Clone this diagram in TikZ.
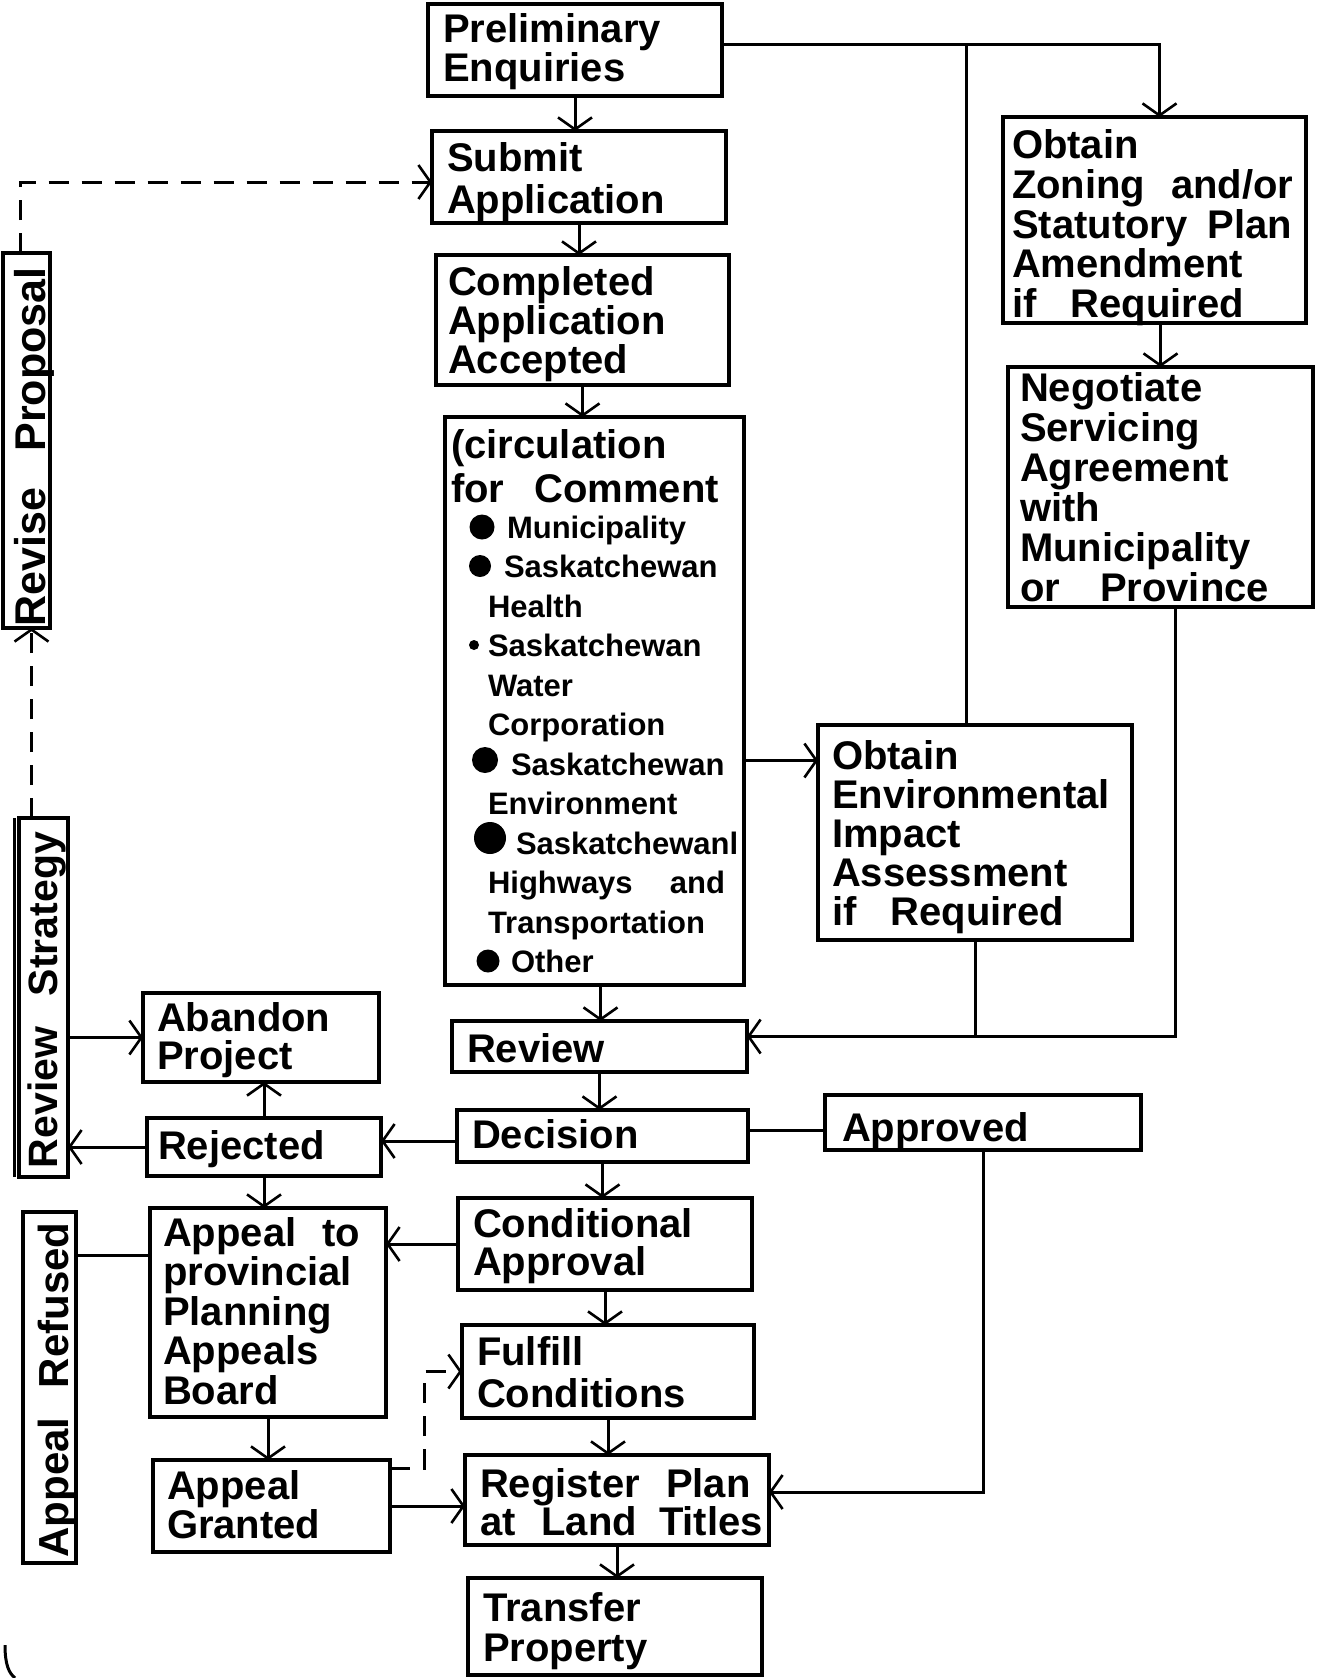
\documentclass[tikz,border=0pt]{standalone}
\usepackage{fontspec}
\setmainfont{Liberation Sans}
\usetikzlibrary{arrows.meta}
\newcommand{\wsp}{\hspace{0.65em}}

\begin{document}
\begin{tikzpicture}[x=1pt,y=-1pt,
  box/.style={draw, line width=3.6pt, inner sep=0pt, outer sep=0pt, anchor=north west},
  txt/.style={anchor=north west, inner sep=0pt, outer sep=0pt, align=left,
    font={\bfseries\fontsize{40}{#1}\selectfont\lineskiplimit=-100pt}},
  txt/.default=39,
  itemtxt/.style={anchor=north west, inner sep=0pt, outer sep=0pt, align=left,
    font={\bfseries\fontsize{31}{39.5}\selectfont\lineskiplimit=-100pt}},
  sidetxt/.style={anchor=base, rotate=90, inner sep=0pt, outer sep=0pt,
    font={\bfseries\fontsize{#1}{#1}\selectfont}},
  con/.style={line width=3pt},
  arr/.style={con, -{Straight Barb[length=12pt,width=34pt,line width=2.6pt]}},
  dcon/.style={con, dash pattern=on 20pt off 13pt},
  darr/.style={dcon, -{Straight Barb[length=12pt,width=34pt,line width=2.6pt]}},
  bullet/.style={fill=black}
]
\fill[white] (0,0) rectangle (1323,1678);
\useasboundingbox (0,0) rectangle (1323,1678);

% ---------- main column ----------
\node[box, minimum width=294pt, minimum height=92pt]  (prelim)    at (428,4) {};
\node[box, minimum width=294pt, minimum height=92pt]  (submit)    at (432,131) {};
\node[box, minimum width=293pt, minimum height=130pt] (completed) at (436,255) {};
\node[box, minimum width=299pt, minimum height=568pt] (circ)      at (445,417) {};
\node[box, minimum width=295pt, minimum height=51pt]  (review)    at (452,1021) {};
\node[box, minimum width=291pt, minimum height=52pt]  (decision)  at (457,1110) {};
\node[box, minimum width=294pt, minimum height=92pt]  (cond)      at (458,1198) {};
\node[box, minimum width=292pt, minimum height=93pt]  (fulfill)   at (462,1325) {};
\node[box, minimum width=304pt, minimum height=90pt]  (register)  at (465,1455) {};
\node[box, minimum width=294pt, minimum height=97pt]  (transfer)  at (468,1578) {};

% ---------- right column ----------
\node[box, minimum width=303pt, minimum height=206pt] (zoning)    at (1003,117) {};
\node[box, minimum width=305pt, minimum height=240pt] (negotiate) at (1008,367) {};
\node[box, minimum width=314pt, minimum height=215pt] (eia)       at (818,725) {};
\node[box, minimum width=316pt, minimum height=55pt]  (approved)  at (825,1095) {};

% ---------- left column ----------
\node[box, minimum width=236pt, minimum height=89pt]  (abandon)    at (143,993) {};
\node[box, minimum width=234pt, minimum height=58pt]  (rejected)   at (147,1118) {};
\node[box, minimum width=236pt, minimum height=209pt] (appealprov) at (150,1208) {};
\node[box, minimum width=237pt, minimum height=92pt]  (granted)    at (153,1460) {};

% ---------- side bars ----------
\node[box, minimum width=47pt, minimum height=375pt] (revise)    at (3,253) {};
\node[box, minimum width=49pt, minimum height=359pt] (revstrat)  at (19,818) {};
\node[box, minimum width=53pt, minimum height=351pt] (appealref) at (23,1212) {};
\draw[line width=4.5pt] (revise.north west) -- (revise.south west);
\draw[line width=3pt] ([xshift=-5pt]revstrat.north west) -- ([xshift=-5pt]revstrat.south west);

% ---------- texts ----------
\node[txt=39]   (prelim-t)    at (443,14)   {Preliminary\\Enquiries};
\node[txt=41.5] (submit-t)    at (447,143)  {Submit\\Application};
\node[txt=39]   (completed-t) at (448,267)  {Completed\\Application\\Accepted};
\node[txt=44]   (circ-t)      at (451,430)  {(circulation\\for\hspace{0.75em}Comment};
\node[itemtxt]  (circ-items)  at (488,516)  {\hspace*{19pt}Municipality\\
  \hspace*{16pt}Saskatchewan\\
  Health\\
  Saskatchewan\\
  Water\\
  Corporation\\
  \hspace*{23pt}Saskatchewan\\
  Environment\\
  \hspace*{28pt}Saskatchewanl\\
  Highways\hspace{1.2em}and\\
  Transportation\\
  \hspace*{23pt}Other};
\fill[bullet] (482,527) circle (12.5pt);
\fill[bullet] (480,566) circle (11pt);
\fill[bullet] (474,645) circle (5pt);
\fill[bullet] (485,760) circle (13pt);
\fill[bullet] (490,838) circle (16pt);
\fill[bullet] (488,961) circle (11.5pt);

\node[txt]    (review-t)   at (467,1034) {Review};
\node[txt]    (decision-t) at (472,1120) {Decision};
\node[txt=38.5] (cond-t)   at (473,1208) {Conditional\\Approval};
\node[txt=42] (fulfill-t)  at (477,1336) {Fulfill\\Conditions};
\node[txt=38] (register-t) at (480,1468) {Register\wsp Plan\\at\wsp Land\hspace{0.55em}Titles};
\node[txt=40] (transfer-t) at (483,1592) {Transfer\\Property};

\node[txt=39.6] (zoning-t)    at (1012,130) {Obtain\\Zoning\wsp and/or\\Statutory\hspace{0.5em}Plan\\Amendment\\if\hspace{0.85em}Required};
\node[txt=40]   (negotiate-t) at (1020,373) {Negotiate\\Servicing\\Agreement\\with\\Municipality\\or\hspace{1em}Province};
\node[txt=39]   (eia-t)       at (832,741)  {Obtain\\Environmental\\Impact\\Assessment\\if\hspace{0.85em}Required};
\node[txt]      (approved-t)  at (842,1113) {Approved};

\node[txt=38]   (abandon-t)    at (157,1003) {Abandon\\Project};
\node[txt]      (rejected-t)   at (158,1131) {Rejected};
\node[txt=39.5] (appealprov-t) at (163,1217) {Appeal\wsp to\\provincial\\Planning\\Appeals\\Board};
\node[txt=39]   (granted-t)    at (167,1470) {Appeal\\Granted};

\node[sidetxt=43] (revise-t)    at (45,447)   {Revise\hspace{0.85em}Proposal};
\node[sidetxt=41] (revstrat-t)  at (57,1000)  {Review\hspace{0.75em}Strategy};
\node[sidetxt=42] (appealref-t) at (68,1390)  {Appeal\hspace{0.7em}Refused};

% ---------- connectors: main column ----------
\draw[arr] (prelim.south)    -- (prelim.south |- submit.north);
\draw[arr] (submit.south)    -- (submit.south |- completed.north);
\draw[arr] (completed.south) -- (completed.south |- circ.north);
\draw[arr] ([xshift=6pt]circ.south) -- ([xshift=6pt]circ.south |- review.north);
\draw[arr] (review.south)    -- (review.south |- decision.north);
\draw[arr] (decision.south)  -- (decision.south |- cond.north);
\draw[arr] (cond.south)      -- (cond.south |- fulfill.north);
\draw[arr] (fulfill.south)   -- (fulfill.south |- register.north);
\draw[arr] (register.south)  -- (register.south |- transfer.north);

% ---------- connectors: right side ----------
\coordinate (br) at (966,45);
\draw[arr] ([yshift=5pt]prelim.east) -| ([xshift=5pt]zoning.north);
\draw[con] (br) -- (br |- eia.north);
\draw[arr] ([xshift=6pt]zoning.south) -- ([xshift=6pt]zoning.south |- negotiate.north);
\coordinate (rvin) at ([yshift=10pt]review.east);
\draw[arr] ([xshift=14.5pt]negotiate.south) |- (rvin);
\draw[con] (eia.south) -- (eia.south |- rvin);
\draw[arr] ([yshift=72pt]eia.west -| circ.east) -- ([yshift=72pt]eia.west);
\draw[con] ([yshift=6pt]decision.east) -- ([yshift=6pt]decision.east -| approved.west);
\draw[arr] (approved.south) |- ([yshift=8pt]register.east);

% ---------- connectors: left side ----------
\draw[arr] ([yshift=-5pt]decision.west) -- ([yshift=-5pt]decision.west -| rejected.east);
\draw[arr] (rejected.west) -- (rejected.west -| revstrat.east);
\draw[arr] (abandon.west -| revstrat.east) -- (abandon.west);
\draw[arr] (rejected.north) -- (rejected.north |- abandon.south);
\draw[arr] (rejected.south) -- (rejected.south |- appealprov.north);
\draw[arr] (cond.west) -- (cond.west -| appealprov.east);
\draw[con] ([yshift=57pt]appealprov.west) -- ([yshift=57pt]appealprov.west -| appealref.east);
\draw[arr] (appealprov.south) -- (appealprov.south |- granted.north);
\draw[arr] (granted.east) -- (granted.east -| register.west);
\draw[darr] ([yshift=38pt]granted.east) -- ++(34,0) |- (fulfill.west);

% ---------- dashed feedback loop ----------
\draw[darr] ([xshift=-12pt]revstrat.north) -- ([xshift=-12pt]revstrat.north |- revise.south);
\draw[darr] ([xshift=-6pt]revise.north) |- ([yshift=-5pt]submit.west);

% page edge mark
\draw[line width=3pt] (5,1645) .. controls (5,1665) and (9,1673) .. (15,1678);
\end{tikzpicture}
\end{document}
